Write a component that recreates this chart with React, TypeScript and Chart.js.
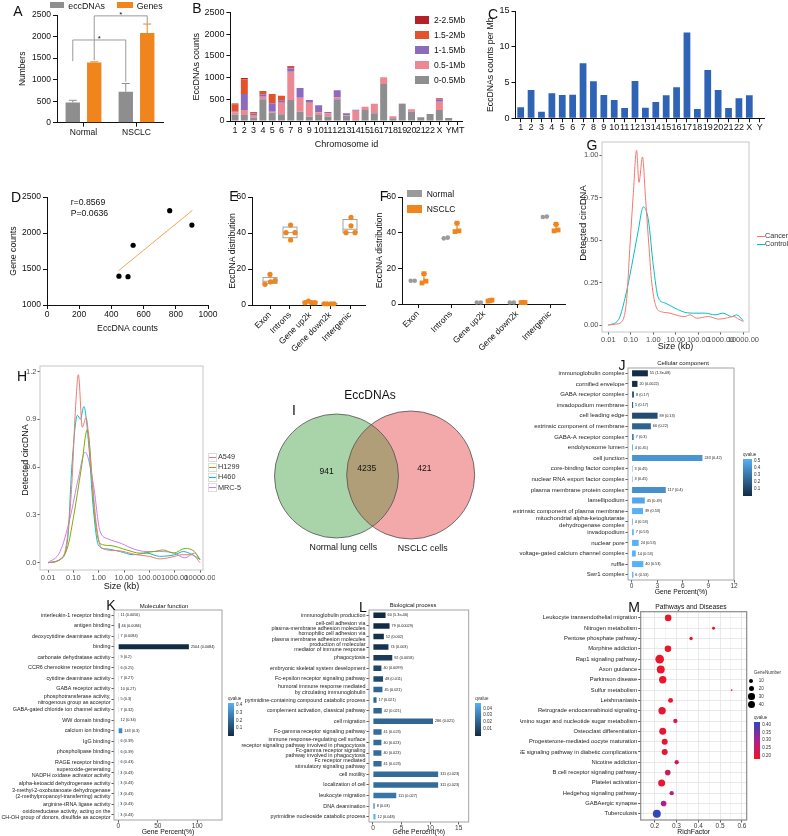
import React, { useEffect, useRef } from 'react';
import { Chart, registerables } from 'chart.js';

Chart.register(...registerables);

const FF = '"Liberation Sans", Arial, Helvetica, sans-serif';
const INK = '#111111';
const GG_INK = '#222222';
const GRAY = '#8e8e8e';
const ORANGE = '#f0841d';

/* ---------------- A ---------------- */
const aGroups = ['Normal', 'NSCLC'];
const aEccDNAs = [470, 720];
const aEccDNAsSD = [50, 190];
const aGenes = [1400, 2080];
const aGenesSD = [12, 210];
const aYTicks = [0, 500, 1000, 1500, 2000, 2500];
const aSigSeries = [0, 1];
const aSigTop = [1920, 2480];
const aSigLeftEnd = [1430, 1450];
const aSigRightEnd = [950, 2300];
const aSigMark = ['*', '*'];

/* ---------------- B ---------------- */
const bChromosomes = ['1', '2', '3', '4', '5', '6', '7', '8', '9', '10', '11', '12', '13', '14', '15', '16', '17', '18', '19', '20', '21', '22', 'X', 'Y', 'MT'];
const bSizeClasses = ['0-0.5Mb', '0.5-1Mb', '1-1.5Mb', '1.5-2Mb', '2-2.5Mb'];
const bColors = ['#8e8e90', '#eb8894', '#8c6bbf', '#e4522d', '#b5212a'];
const b0to05 = [150, 140, 80, 498, 192, 153, 483, 215, 100, 138, 100, 498, 115, 23, 253, 176, 851, 61, 390, 210, 85, 160, 253, 70, 0];
const b05to1 = [50, 115, 60, 61, 23, 268, 652, 322, 322, 61, 77, 46, 15, 215, 77, 222, 153, 50, 10, 60, 0, 0, 192, 0, 0];
const b1to15 = [20, 368, 35, 54, 192, 46, 77, 222, 61, 161, 31, 161, 46, 23, 0, 0, 0, 0, 0, 0, 0, 0, 55, 0, 0];
const b15to2 = [160, 337, 30, 77, 215, 115, 38, 0, 0, 0, 0, 0, 0, 0, 0, 0, 0, 0, 0, 0, 0, 0, 23, 0, 0];
const b2to25 = [25, 31, 0, 0, 0, 0, 15, 0, 0, 0, 0, 0, 0, 0, 0, 0, 0, 0, 0, 0, 0, 0, 7, 0, 0];
const bYTicks = [0, 500, 1000, 1500, 2000, 2500];

/* ---------------- C ---------------- */
const cChromosomes = ['1', '2', '3', '4', '5', '6', '7', '8', '9', '10', '11', '12', '13', '14', '15', '16', '17', '18', '19', '20', '21', '22', 'X', 'Y'];
const cPerMb = [1.55, 3.96, 0.93, 3.49, 3.26, 3.3, 7.69, 5.17, 3.26, 2.56, 1.44, 5.2, 1.49, 2.28, 3.21, 4.33, 12.0, 1.3, 6.75, 3.96, 1.44, 2.8, 3.21, 0];
const cYTicks = [0, 5, 10, 15];

/* ---------------- D ---------------- */
const dEccDNA = [447, 503, 535, 762, 900];
const dGenes = [1400, 1393, 1830, 2310, 2110];
const dFitX = [443, 903];
const dFitY = [1474, 2314];
const dXTicks = [0, 200, 400, 600, 800, 1000];
const dYTicks = [1000, 1500, 2000, 2500];

/* ---------------- E ---------------- */
const regionLabels = ['Exon', 'Introns', 'Gene up2k', 'Gene down2k', 'Intergenic'];
const eMin = [11.5, 36.1, 1.3, 0.6, 40.2];
const eQ1 = [12.0, 37.4, 1.3, 0.65, 40.2];
const eMed = [13.2, 40.2, 1.35, 0.7, 42.1];
const eQ3 = [15.3, 43.3, 2.0, 0.8, 47.5];
const eMax = [17.0, 44.4, 2.2, 0.85, 48.7];
const ePoints = [[11.5, 17, 12.9, 13.5], [44.4, 40.2, 40.2, 36.1], [2.2, 1.3, 1.3, 1.3], [0.7, 0.7, 0.7, 0.7], [48.7, 44, 40.2, 40.2]];
const eJitter = [[-0.25, 0, 0.03, 0.25], [0.03, -0.2, 0.25, 0.03], [-0.08, -0.25, 0.08, 0.25], [-0.3, -0.15, 0.05, 0.2], [0.05, 0.05, -0.2, 0.25]];
const pctTicks = [0, 20, 40, 60];

/* ---------------- F ---------------- */
const fNormal = [[13, 13], [36.8, 37.2], [0.8, 0.8], [0.8, 0.8], [48.8, 49]];
const fNormalJitter = [-0.22, -0.1];
const fNsclc = [[11.8, 12.8, 17], [40.6, 41, 45.3], [1.6, 2.2, 1.9], [0.8, 0.8, 0.9], [41, 41.5, 44.7]];
const fNsclcJitter = [0.12, 0.24, 0.18];

/* ---------------- G ---------------- */
const sizeTicks = [0.01, 0.1, 1, 10, 100, 1000, 10000];
const gCancerKb = [0.01, 0.02, 0.04, 0.066, 0.09, 0.13, 0.18, 0.23, 0.33, 0.45, 0.65, 0.85, 1.4, 2.3, 5.5, 13, 25, 43, 85, 280, 800, 1600, 3700, 6200, 10000];
const gCancerY = [0, 0.005, 0.02, 0.157, 0.45, 0.78, 1.03, 0.84, 0.99, 0.75, 0.45, 0.25, 0.1, 0.078, 0.07, 0.055, 0.05, 0.06, 0.04, 0.05, 0.035, 0.04, 0.05, 0.035, 0.02];
const gControlKb = [0.01, 0.028, 0.055, 0.11, 0.21, 0.36, 0.6, 1.0, 1.67, 3.3, 9, 25, 70, 200, 550, 1250, 3000, 5000, 10000];
const gControlY = [0, 0.03, 0.157, 0.35, 0.55, 0.696, 0.62, 0.35, 0.16, 0.13, 0.1, 0.075, 0.07, 0.07, 0.06, 0.07, 0.05, 0.06, 0.025];
const gYTicks = [0, 0.25, 0.5, 0.75, 1.0];

/* ---------------- H ---------------- */
const hA549Kb = [0.01, 0.03, 0.055, 0.087, 0.117, 0.158, 0.226, 0.316, 0.5, 0.84, 1.32, 5.1, 31.6, 100, 263, 1000, 1900, 5000, 10000];
const hA549Y = [0, 0.02, 0.13, 0.49, 0.92, 1.18, 0.85, 0.91, 0.6, 0.218, 0.09, 0.076, 0.05, 0.04, 0.024, 0.04, 0.05, 0.05, 0.0];
const hH1299Kb = [0.01, 0.03, 0.06, 0.1, 0.21, 0.355, 0.72, 1.12, 2.8, 12.6, 43, 150, 355, 900, 2600, 6000, 10000];
const hH1299Y = [0, 0.02, 0.1, 0.28, 0.6, 0.835, 0.28, 0.12, 0.108, 0.08, 0.06, 0.07, 0.08, 0.06, 0.09, 0.07, 0.02];
const hH460Kb = [0.01, 0.03, 0.06, 0.087, 0.145, 0.19, 0.26, 0.4, 0.61, 0.98, 2.1, 7, 23, 80, 250, 1000, 2200, 5000, 10000];
const hH460Y = [0, 0.02, 0.15, 0.6, 0.925, 0.9, 0.98, 0.75, 0.345, 0.11, 0.087, 0.07, 0.05, 0.06, 0.04, 0.05, 0.07, 0.05, 0.02];
const hMRC5Kb = [0.01, 0.03, 0.074, 0.16, 0.29, 0.62, 1.12, 2.3, 8, 25, 80, 250, 1000, 2500, 6000, 10000];
const hMRC5Y = [0, 0.07, 0.28, 0.535, 0.695, 0.49, 0.2, 0.15, 0.12, 0.085, 0.07, 0.07, 0.06, 0.03, 0.06, 0.02];
const hYTicks = [0, 0.3, 0.6, 0.9, 1.2];

/* ---------------- I ---------------- */
const vennTitle = 'EccDNAs';
const vennSets = ['Normal lung cells', 'NSCLC cells'];
const vennOnlyNormal = 941;
const vennShared = 4235;
const vennOnlyNsclc = 421;

/* ---------------- J ---------------- */
const ccTerms: any[] = ['immunoglobulin complex', 'cornified envelope', 'GABA receptor complex', 'invadopodium membrane', 'cell leading edge', 'extrinsic component of membrane', 'GABA-A receptor complex', 'endolysosome lumen', 'cell junction', 'core-binding factor complex', 'nuclear RNA export factor complex', 'plasma membrane protein complex', 'lamellipodium', 'extrinsic component of plasma membrane', ['mitochondrial alpha-ketoglutarate', 'dehydrogenase complex'], 'invadopodium', 'nuclear pore', 'voltage-gated calcium channel complex', 'ruffle', 'Swr1 complex'];
const ccPercent = [1.9, 0.68, 0.27, 0.17, 3.04, 2.25, 0.24, 0.14, 8.3, 0.1, 0.1, 4.0, 1.54, 1.33, 0.14, 0.24, 0.82, 0.48, 1.37, 0.2];
const ccCount = [55, 20, 8, 5, 89, 66, 7, 4, 243, 3, 3, 117, 45, 39, 4, 7, 24, 14, 40, 6];
const ccQ = [1.3e-8, 0.0022, 0.17, 0.17, 0.13, 0.22, 0.3, 0.45, 0.42, 0.45, 0.45, 0.4, 0.49, 0.53, 0.53, 0.53, 0.53, 0.53, 0.53, 0.53];
const ccXTicks = [0, 3, 6, 9, 12];
const ccQRange = [0, 0.53];
const ccQTicks = [0.1, 0.2, 0.3, 0.4, 0.5];

/* ---------------- K ---------------- */
const mfTerms: any[] = ['interleukin-1 receptor binding', 'antigen binding', 'deoxycytidine deaminase activity', 'binding', 'carbonate dehydratase activity', 'CCR6 chemokine receptor binding', 'cytidine deaminase activity', 'GABA receptor activity', ['phosphotransferase activity,', 'nitrogenous group as acceptor'], 'GABA-gated chloride ion channel activity', 'WW domain binding', 'calcium ion binding', 'IgG binding', 'phospholipase binding', 'RAGE receptor binding', ['superoxide-generating', 'NADPH oxidase activator activity'], 'alpha-ketoacid dehydrogenase activity', ['3-methyl-2-oxobutanoate dehydrogenase', '(2-methylpropanoyl-transferring) activity'], 'arginine-tRNA ligase activity', ['oxidoreductase activity, acting on the', 'CH-OH group of donors, disulfide as acceptor']];
const mfPercent = [0.39, 1.64, 0.25, 89.4, 0.32, 0.21, 0.25, 0.36, 0.18, 0.25, 0.43, 5.1, 0.21, 0.21, 0.21, 0.11, 0.11, 0.11, 0.11, 0.11];
const mfCount = [11, 46, 7, 2504, 9, 6, 7, 10, 5, 7, 12, 143, 6, 6, 6, 3, 3, 3, 3, 3];
const mfQ = [0.0056, 0.0084, 0.0084, 0.0084, 0.2, 0.25, 0.27, 0.27, 0.3, 0.32, 0.34, 0.3, 0.39, 0.39, 0.43, 0.43, 0.43, 0.43, 0.43, 0.43];
const mfXTicks = [0, 50, 100];
const mfQRange = [0.0056, 0.43];
const mfQTicks = [0.1, 0.2, 0.3, 0.4];

/* ---------------- L ---------------- */
const bpTerms: any[] = ['immunoglobulin production', ['cell-cell adhesion via', 'plasma-membrane adhesion molecules'], ['homophilic cell adhesion via', 'plasma membrane adhesion molecules'], ['production of molecular', 'mediator of immune response'], 'phagocytosis', 'embryonic skeletal system development', 'Fc-epsilon receptor signaling pathway', ['humoral immune response mediated', 'by circulating immunoglobulin'], 'pyrimidine-containing compound catabolic process', 'complement activation, classical pathway', 'cell migration', 'Fc-gamma receptor signaling pathway', ['immune response-regulating cell surface', 'receptor signaling pathway involved in phagocytosis'], ['Fc-gamma receptor signaling', 'pathway involved in phagocytosis'], ['Fc receptor mediated', 'stimulatory signaling pathway'], 'cell motility', 'localization of cell', 'leukocyte migration', 'DNA deamination', 'pyrimidine nucleoside catabolic process'];
const bpPercent = [2.2, 2.9, 1.9, 2.7, 3.37, 1.47, 1.76, 1.65, 0.62, 1.54, 10.5, 1.5, 1.47, 1.47, 1.5, 11.4, 11.4, 4.07, 0.29, 0.44];
const bpCount = [60, 79, 52, 74, 92, 40, 48, 45, 17, 42, 286, 41, 40, 40, 41, 311, 311, 111, 8, 12];
const bpQ = [5.3e-6, 0.00029, 0.002, 0.003, 0.0058, 0.0099, 0.011, 0.021, 0.021, 0.021, 0.021, 0.023, 0.023, 0.023, 0.023, 0.023, 0.023, 0.027, 0.03, 0.048];
const bpXTicks = [0, 5, 10, 15];
const bpQRange = [5.3e-6, 0.048];
const bpQTicks = [0.01, 0.02, 0.03, 0.04];

/* ---------------- M ---------------- */
const pathTerms = ['Leukocyte transendothelial migration', 'Nitrogen metabolism', 'Pentose phosphate pathway', 'Morphine addiction', 'Rap1 signaling pathway', 'Axon guidance', 'Parkinson disease', 'Sulfur metabolism', 'Leishmaniasis', 'Retrograde endocannabinoid signaling', 'Amino sugar and nucleotide sugar metabolism', 'Osteoclast differentiation', 'Progesterone-mediated oocyte maturation', 'AGE-RAGE signaling pathway in diabetic complications', 'Nicotine addiction', 'B cell receptor signaling pathway', 'Platelet activation', 'Hedgehog signaling pathway', 'GABAergic synapse', 'Tuberculosis'];
const pathRich = [0.262, 0.47, 0.367, 0.261, 0.223, 0.228, 0.237, 0.553, 0.273, 0.234, 0.295, 0.237, 0.246, 0.246, 0.301, 0.26, 0.232, 0.278, 0.241, 0.21];
const pathGenes = [30, 6, 8, 30, 52, 44, 38, 2, 17, 38, 13, 34, 25, 25, 13, 22, 34, 13, 22, 44];
const pathQ = [0.19, 0.19, 0.19, 0.19, 0.19, 0.19, 0.19, 0.19, 0.19, 0.2, 0.23, 0.2, 0.2, 0.2, 0.24, 0.25, 0.2, 0.28, 0.3, 0.41];
const pathXTicks = [0.15, 0.2, 0.25, 0.3, 0.35, 0.4, 0.45, 0.5, 0.55, 0.6];
const pathQRange = [0.179, 0.417];
const pathQTicks = [0.2, 0.25, 0.3, 0.35, 0.4];
const pathSizeLegend = [10, 20, 30, 40];

/* ---------------- helpers ---------------- */
type Box = { l: number; t: number; r: number; b: number };

function merge(a: any, b: any): any {
  const out: any = { ...(a || {}) };
  for (const k of Object.keys(b || {})) {
    const v = b[k];
    const av = out[k];
    if (v && typeof v === 'object' && !Array.isArray(v) && av && typeof av === 'object' && !Array.isArray(av)) out[k] = merge(av, v);
    else out[k] = v;
  }
  return out;
}

function base(c: Box, p: Box): any {
  return {
    responsive: false,
    animation: false,
    devicePixelRatio: 1,
    events: [],
    layout: { autoPadding: false, padding: { left: 0, top: p.t - c.t, right: c.r - p.r, bottom: 0 } },
    plugins: { legend: { display: false }, tooltip: { enabled: false }, title: { display: false } },
  };
}
const zeroPad = (s: any) => { s.paddingTop = 0; s.paddingBottom = 0; s.paddingLeft = 0; s.paddingRight = 0; };
const fitW = (w: number) => (s: any) => { s.width = w; zeroPad(s); };
const fitH = (h: number) => (s: any) => { s.height = h; zeroPad(s); };
const fixTicks = (vals: number[]) => (s: any) => { s.ticks = vals.map((v) => ({ value: v })); };
const ttl = (text: string, size: number, color = INK) => ({ display: true, text, color, font: { family: FF, size }, padding: 0 });
const numLabel = (v: any) => String(v);

const gpBase = {
  grid: { display: true, drawOnChartArea: false, drawTicks: true, tickLength: 4, color: INK, lineWidth: 1, offset: false },
  border: { display: true, color: INK, width: 1 },
  ticks: { color: INK, font: { family: FF, size: 8.5 }, padding: 1, autoSkip: false, maxRotation: 0, minRotation: 0 },
};
const gp = (extra: any) => merge(gpBase, extra);

const ggBase = {
  grid: { display: true, drawOnChartArea: false, drawTicks: true, tickLength: 2.5, color: '#333333', lineWidth: 0.8, offset: false },
  border: { display: false },
  ticks: { color: '#3a3a3a', font: { family: FF, size: 6.5 }, padding: 1, autoSkip: false, maxRotation: 0, minRotation: 0 },
};
const gg = (extra: any) => merge(ggBase, extra);

function lerp(c1: number[], c2: number[], t: number) {
  const u = Math.max(0, Math.min(1, t));
  return c1.map((v, i) => Math.round(v + (c2[i] - v) * u));
}
const rgb = (c: number[]) => `rgb(${c[0]},${c[1]},${c[2]})`;
const GO_LO = [19, 43, 67];
const GO_HI = [86, 177, 247];
const goColor = (q: number, range: number[]) => rgb(lerp(GO_LO, GO_HI, (q - range[0]) / (range[1] - range[0])));
const M_RED = [240, 22, 32];
const M_MID = [176, 30, 140];
const M_BLUE = [40, 72, 192];
function pathColor(q: number) {
  const t = (q - pathQRange[0]) / (pathQRange[1] - pathQRange[0]);
  return t < 0.5 ? rgb(lerp(M_RED, M_MID, t * 2)) : rgb(lerp(M_MID, M_BLUE, (t - 0.5) * 2));
}
function fmtQ(q: number) {
  if (q < 1e-4) {
    const [m, e] = q.toExponential(1).split('e');
    const ei = parseInt(e, 10);
    return `${m}e${ei < 0 ? '-' : '+'}${String(Math.abs(ei)).padStart(2, '0')}`;
  }
  return String(Number(q.toPrecision(2)));
}

function framePlugin(color: string, width: number) {
  return {
    id: 'frame',
    afterDatasetsDraw(chart: any) {
      const { ctx, chartArea: a } = chart;
      ctx.save();
      ctx.strokeStyle = color;
      ctx.lineWidth = width;
      ctx.strokeRect(a.left, a.top, a.right - a.left, a.bottom - a.top);
      ctx.restore();
    },
  };
}

function barLabelPlugin(texts: string[], size: number) {
  return {
    id: 'barLabels',
    afterDatasetsDraw(chart: any) {
      const { ctx } = chart;
      const meta = chart.getDatasetMeta(0);
      ctx.save();
      ctx.font = `${size}px ${FF}`;
      ctx.fillStyle = '#222';
      ctx.textAlign = 'left';
      ctx.textBaseline = 'middle';
      meta.data.forEach((bar: any, i: number) => ctx.fillText(texts[i], bar.x + 2, bar.y));
      ctx.restore();
    },
  };
}

/* ---------------- layout boxes ---------------- */
const boxA: Box = { l: 18, t: 0, r: 172, b: 150 };
const plotA: Box = { l: 57, t: 15, r: 163, b: 122.7 };
const boxB: Box = { l: 191, t: 0, r: 470, b: 150 };
const plotB: Box = { l: 230.4, t: 12.3, r: 462.6, b: 121 };
const boxC: Box = { l: 485, t: 0, r: 788, b: 140 };
const plotC: Box = { l: 515.5, t: 11, r: 764.9, b: 118.3 };
const boxD: Box = { l: 8, t: 185, r: 225, b: 334 };
const plotD: Box = { l: 47, t: 197, r: 208, b: 305 };
const boxE: Box = { l: 228, t: 185, r: 380, b: 372 };
const plotE: Box = { l: 252, t: 197, r: 365, b: 305 };
const boxF: Box = { l: 375, t: 185, r: 575, b: 372 };
const plotF: Box = { l: 402, t: 197, r: 565, b: 304 };
const boxG: Box = { l: 578, t: 130, r: 760, b: 352 };
const plotG: Box = { l: 602, t: 142, r: 749, b: 332 };
const boxH: Box = { l: 10, t: 355, r: 215, b: 592 };
const plotH: Box = { l: 40, t: 366, r: 203, b: 570 };
const boxI: Box = { l: 250, t: 380, r: 510, b: 560 };
const boxJ: Box = { l: 500, t: 360, r: 740, b: 596 };
const plotJ: Box = { l: 628, t: 368, r: 734, b: 580 };
const boxK: Box = { l: 0, t: 600, r: 250, b: 836 };
const plotK: Box = { l: 114, t: 610, r: 222, b: 820 };
const boxL: Box = { l: 200, t: 600, r: 475, b: 836 };
const plotL: Box = { l: 369, t: 610, r: 468.7, b: 822 };
const boxM: Box = { l: 520, t: 600, r: 750, b: 836 };
const plotM: Box = { l: 640.7, t: 611.7, r: 746.7, b: 820 };

/* ---------------- configs ---------------- */
function cfgA(): any {
  const c = boxA, p = plotA;
  const annot = {
    id: 'aAnnot',
    afterDatasetsDraw(chart: any) {
      const { ctx } = chart;
      const y = chart.scales.y;
      const sds = [aEccDNAsSD, aGenesSD];
      const errColors = [GRAY, ORANGE];
      ctx.save();
      ctx.lineWidth = 1;
      chart.data.datasets.forEach((ds: any, di: number) => {
        chart.getDatasetMeta(di).data.forEach((bar: any, i: number) => {
          const top = y.getPixelForValue(ds.data[i]);
          const end = y.getPixelForValue(ds.data[i] + sds[di][i]);
          ctx.strokeStyle = errColors[di];
          ctx.beginPath();
          ctx.moveTo(bar.x, top);
          ctx.lineTo(bar.x, end);
          ctx.moveTo(bar.x - 4, end);
          ctx.lineTo(bar.x + 4, end);
          ctx.stroke();
        });
      });
      ctx.strokeStyle = '#9a9a9a';
      ctx.fillStyle = INK;
      ctx.font = `8px ${FF}`;
      ctx.textAlign = 'center';
      ctx.textBaseline = 'middle';
      aSigSeries.forEach((s, k) => {
        const meta = chart.getDatasetMeta(s);
        const x1 = meta.data[0].x;
        const x2 = meta.data[1].x;
        const yt = y.getPixelForValue(aSigTop[k]);
        ctx.beginPath();
        ctx.moveTo(x1, y.getPixelForValue(aSigLeftEnd[k]));
        ctx.lineTo(x1, yt);
        ctx.lineTo(x2, yt);
        ctx.lineTo(x2, y.getPixelForValue(aSigRightEnd[k]));
        ctx.stroke();
        ctx.fillText(aSigMark[k], (x1 + x2) / 2, yt - 1);
      });
      ctx.restore();
    },
  };
  return {
    type: 'bar',
    data: {
      labels: aGroups,
      datasets: [
        { label: 'eccDNAs', data: aEccDNAs, backgroundColor: GRAY, categoryPercentage: 0.81, barPercentage: 0.67 },
        { label: 'Genes', data: aGenes, backgroundColor: ORANGE, categoryPercentage: 0.81, barPercentage: 0.67 },
      ],
    },
    options: merge(base(c, p), {
      scales: {
        x: gp({ afterFit: fitH(c.b - p.b), ticks: { padding: 0.5 } }),
        y: gp({ min: 0, max: 2500, afterBuildTicks: fixTicks(aYTicks), afterFit: fitW(p.l - c.l), ticks: { padding: 2, callback: numLabel }, title: ttl('Numbers', 8.5) }),
      },
    }),
    plugins: [annot],
  };
}

function cfgB(): any {
  const c = boxB, p = plotB;
  const series = [b0to05, b05to1, b1to15, b15to2, b2to25];
  return {
    type: 'bar',
    data: {
      labels: bChromosomes,
      datasets: series.map((d, i) => ({ label: bSizeClasses[i], data: d, backgroundColor: bColors[i], barPercentage: 0.75, categoryPercentage: 1 })),
    },
    options: merge(base(c, p), {
      scales: {
        x: gp({ stacked: true, afterFit: fitH(c.b - p.b), ticks: { padding: 0, font: { size: 9 } }, title: ttl('Chromosome id', 9) }),
        y: gp({ stacked: true, min: 0, max: 2500, afterBuildTicks: fixTicks(bYTicks), afterFit: fitW(p.l - c.l), ticks: { padding: 2, font: { size: 9 }, callback: numLabel }, title: ttl('EccDNAs counts', 9) }),
      },
    }),
  };
}

function cfgC(): any {
  const c = boxC, p = plotC;
  return {
    type: 'bar',
    data: { labels: cChromosomes, datasets: [{ data: cPerMb, backgroundColor: '#2f63b6', barPercentage: 0.65, categoryPercentage: 1 }] },
    options: merge(base(c, p), {
      scales: {
        x: gp({ afterFit: fitH(c.b - p.b), ticks: { padding: 0, font: { size: 9 } } }),
        y: gp({ min: 0, max: 15, afterBuildTicks: fixTicks(cYTicks), afterFit: fitW(p.l - c.l), ticks: { padding: 2, font: { size: 9 }, callback: numLabel }, title: ttl('EccDNAs counts per Mb', 8.7) }),
      },
    }),
  };
}

function cfgD(): any {
  const c = boxD, p = plotD;
  return {
    type: 'scatter',
    data: {
      datasets: [
        { data: dEccDNA.map((x, i) => ({ x, y: dGenes[i] })), pointRadius: 2.6, pointBackgroundColor: '#000', pointBorderWidth: 0, clip: false },
        { data: dFitX.map((x, i) => ({ x, y: dFitY[i] })), showLine: true, borderColor: '#f6a458', borderWidth: 1, pointRadius: 0 },
      ],
    },
    options: merge(base(c, p), {
      scales: {
        x: gp({ type: 'linear', min: 0, max: 1000, afterBuildTicks: fixTicks(dXTicks), afterFit: fitH(c.b - p.b), ticks: { padding: 1, callback: numLabel }, title: ttl('EccDNA counts', 8.7) }),
        y: gp({ type: 'linear', min: 1000, max: 2500, afterBuildTicks: fixTicks(dYTicks), afterFit: fitW(p.l - c.l), ticks: { padding: 2, callback: numLabel }, title: ttl('Gene counts', 8.7) }),
      },
    }),
  };
}

function cfgE(): any {
  const c = boxE, p = plotE;
  const pts: any[] = [];
  ePoints.forEach((arr, i) => arr.forEach((v, k) => pts.push({ x: i + eJitter[i][k], y: v })));
  const boxes = {
    id: 'boxes',
    beforeDatasetsDraw(chart: any) {
      const { ctx } = chart;
      const { x, y } = chart.scales;
      const py = (v: number) => y.getPixelForValue(v);
      ctx.save();
      ctx.strokeStyle = '#a3a3a3';
      ctx.lineWidth = 1;
      ctx.fillStyle = '#ffffff';
      regionLabels.forEach((_, i) => {
        const xl = x.getPixelForValue(i - 0.35);
        const xr = x.getPixelForValue(i + 0.35);
        const xc = x.getPixelForValue(i);
        ctx.beginPath();
        ctx.moveTo(xc, py(eMax[i]));
        ctx.lineTo(xc, py(eQ3[i]));
        ctx.moveTo(xc, py(eQ1[i]));
        ctx.lineTo(xc, py(eMin[i]));
        ctx.stroke();
        ctx.fillRect(xl, py(eQ3[i]), xr - xl, py(eQ1[i]) - py(eQ3[i]));
        ctx.strokeRect(xl, py(eQ3[i]), xr - xl, py(eQ1[i]) - py(eQ3[i]));
        ctx.beginPath();
        ctx.moveTo(xl, py(eMed[i]));
        ctx.lineTo(xr, py(eMed[i]));
        ctx.stroke();
      });
      ctx.restore();
    },
  };
  return {
    type: 'scatter',
    data: { datasets: [{ data: pts, pointRadius: 2.6, pointBackgroundColor: ORANGE, pointBorderWidth: 0, clip: false }] },
    options: merge(base(c, p), {
      scales: {
        x: gp({ type: 'linear', min: -0.9, max: 4.75, afterBuildTicks: fixTicks([0, 1, 2, 3, 4]), afterFit: fitH(c.b - p.b), ticks: { padding: 1, maxRotation: 45, minRotation: 45, callback: (v: any) => regionLabels[v] } }),
        y: gp({ type: 'linear', min: 0, max: 60, afterBuildTicks: fixTicks(pctTicks), afterFit: fitW(p.l - c.l), ticks: { padding: 2, callback: numLabel }, title: ttl('EccDNA distribution', 8.5) }),
      },
    }),
    plugins: [boxes],
  };
}

function cfgF(): any {
  const c = boxF, p = plotF;
  const nPts: any[] = [];
  fNormal.forEach((arr, i) => arr.forEach((v, k) => nPts.push({ x: i + fNormalJitter[k], y: v })));
  const sPts: any[] = [];
  fNsclc.forEach((arr, i) => arr.forEach((v, k) => sPts.push({ x: i + fNsclcJitter[k], y: v })));
  const err = {
    id: 'fErr',
    beforeDatasetsDraw(chart: any) {
      const { ctx } = chart;
      const { x, y } = chart.scales;
      ctx.save();
      ctx.strokeStyle = ORANGE;
      ctx.lineWidth = 1.2;
      fNsclc.forEach((arr, i) => {
        const xc = x.getPixelForValue(i + 0.18);
        const lo = y.getPixelForValue(Math.min(...arr));
        const hi = y.getPixelForValue(Math.max(...arr));
        ctx.beginPath();
        ctx.moveTo(xc, lo);
        ctx.lineTo(xc, hi);
        ctx.moveTo(xc - 3, hi);
        ctx.lineTo(xc + 3, hi);
        ctx.stroke();
      });
      ctx.restore();
    },
  };
  return {
    type: 'scatter',
    data: {
      datasets: [
        { label: 'Normal', data: nPts, pointRadius: 2.3, pointBackgroundColor: '#9b9b9b', pointBorderWidth: 0, clip: false },
        { label: 'NSCLC', data: sPts, pointStyle: 'rect', pointRadius: 3.4, pointBackgroundColor: ORANGE, pointBorderWidth: 0, clip: false },
      ],
    },
    options: merge(base(c, p), {
      scales: {
        x: gp({ type: 'linear', min: -0.485, max: 4.45, afterBuildTicks: fixTicks([0, 1, 2, 3, 4]), afterFit: fitH(c.b - p.b), ticks: { padding: 1, maxRotation: 45, minRotation: 45, callback: (v: any) => regionLabels[v] } }),
        y: gp({ type: 'linear', min: 0, max: 60, afterBuildTicks: fixTicks(pctTicks), afterFit: fitW(p.l - c.l), ticks: { padding: 2, callback: numLabel }, title: ttl('EccDNA distribution', 8.5) }),
      },
    }),
    plugins: [err],
  };
}

function densityCfg(c: Box, p: Box, series: { kb: number[]; y: number[]; color: string }[], xr: number[], yr: number[], yTicks: number[], digits: number): any {
  return {
    type: 'scatter',
    data: {
      datasets: series.map((s) => ({
        data: s.kb.map((k, i) => ({ x: k, y: s.y[i] })),
        showLine: true,
        borderColor: s.color,
        borderWidth: 1,
        pointRadius: 0,
        cubicInterpolationMode: 'monotone',
        fill: false,
      })),
    },
    options: merge(base(c, p), {
      scales: {
        x: gg({ type: 'logarithmic', min: xr[0], max: xr[1], afterBuildTicks: fixTicks(sizeTicks), afterFit: fitH(c.b - p.b), ticks: { font: { size: 7.5 }, color: '#4d4d4d', callback: (v: any) => Number(v).toFixed(2) }, title: ttl('Size (kb)', 9) }),
        y: gg({ type: 'linear', min: yr[0], max: yr[1], afterBuildTicks: fixTicks(yTicks), afterFit: fitW(p.l - c.l), ticks: { font: { size: 7.5 }, color: '#4d4d4d', callback: (v: any) => Number(v).toFixed(digits) } }),
      },
    }),
    plugins: [framePlugin('#c6c6c6', 1)],
  };
}

function cfgG(): any {
  return densityCfg(boxG, plotG, [
    { kb: gCancerKb, y: gCancerY, color: '#f8766d' },
    { kb: gControlKb, y: gControlY, color: '#00bfc4' },
  ], [Math.pow(10, -2.28), Math.pow(10, 4.25)], [-0.041, 1.078], gYTicks, 2);
}

function cfgH(): any {
  return densityCfg(boxH, plotH, [
    { kb: hA549Kb, y: hA549Y, color: '#f8766d' },
    { kb: hH1299Kb, y: hH1299Y, color: '#7cae00' },
    { kb: hH460Kb, y: hH460Y, color: '#00bfc4' },
    { kb: hMRC5Kb, y: hMRC5Y, color: '#c77cff' },
  ], [Math.pow(10, -2.316), Math.pow(10, 4.118)], [-0.0458, 1.2345], hYTicks, 1);
}

const vennCx = [86.5, 160.7];
const vennCy = [96, 95];
const vennR = [62, 64];
function cfgI(): any {
  const c = boxI;
  const venn = {
    id: 'venn',
    afterDraw(chart: any) {
      const { ctx } = chart;
      const { x, y } = chart.scales;
      const circ = [0, 1].map((i) => ({ cx: x.getPixelForValue(vennCx[i]), cy: y.getPixelForValue(vennCy[i]), r: x.getPixelForValue(vennCx[i] + vennR[i]) - x.getPixelForValue(vennCx[i]) }));
      const path = (k: number) => { ctx.beginPath(); ctx.arc(circ[k].cx, circ[k].cy, circ[k].r, 0, Math.PI * 2); };
      ctx.save();
      path(0); ctx.fillStyle = '#a9d4a9'; ctx.fill();
      path(1); ctx.fillStyle = '#f3a9aa'; ctx.fill();
      ctx.save();
      path(0); ctx.clip();
      path(1); ctx.fillStyle = '#b09e78'; ctx.fill();
      ctx.restore();
      ctx.strokeStyle = '#505050';
      ctx.lineWidth = 0.8;
      path(0); ctx.stroke();
      path(1); ctx.stroke();
      ctx.restore();
    },
  };
  return {
    type: 'scatter',
    data: { datasets: [] },
    options: merge(base(c, c), {
      scales: {
        x: { type: 'linear', display: false, min: 0, max: c.r - c.l },
        y: { type: 'linear', display: false, min: 0, max: c.b - c.t, reverse: true },
      },
    }),
    plugins: [venn],
  };
}

function goCfg(c: Box, p: Box, terms: any[], pct: number[], counts: number[], qs: number[], qRange: number[], xTicks: number[], yFont: number, barPct: number): any {
  const span = xTicks[xTicks.length - 1] - xTicks[0];
  const pxPerUnit = (p.r - p.l) / 1;
  void pxPerUnit;
  const texts = counts.map((n, i) => `${n} (${fmtQ(qs[i])})`);
  return {
    type: 'bar',
    data: { labels: terms, datasets: [{ data: pct, backgroundColor: qs.map((q) => goColor(q, qRange)), barPercentage: barPct, categoryPercentage: 1 }] },
    options: merge(base(c, p), {
      indexAxis: 'y',
      scales: {
        x: gg({ type: 'linear', min: xRange(c, p, xTicks)[0], max: xRange(c, p, xTicks)[1], afterBuildTicks: fixTicks(xTicks), afterFit: fitH(c.b - p.b), ticks: { padding: 0, callback: numLabel }, title: ttl('Gene Percent(%)', 6.8) }),
        y: gg({ afterFit: fitW(p.l - c.l), ticks: { padding: 1, color: GG_INK, font: { size: yFont, lineHeight: 1.05 } } }),
      },
    }),
    plugins: [framePlugin('#9a9a9a', 0.9), barLabelPlugin(texts, 3.8)],
    _span: span,
  };
}
// x ranges read from the frames: value at left and right edge of each panel
const ccXRange = [-0.43, 12.0];
const mfXRange = [-5.4, 131.3];
const bpXRange = [-0.7, 16.75];
function xRange(c: Box, _p: Box, _t: number[]) {
  if (c === boxJ) return ccXRange;
  if (c === boxK) return mfXRange;
  return bpXRange;
}

function cfgJ(): any { return goCfg(boxJ, plotJ, ccTerms, ccPercent, ccCount, ccQ, ccQRange, ccXTicks, 6, 0.57); }
function cfgK(): any { return goCfg(boxK, plotK, mfTerms, mfPercent, mfCount, mfQ, mfQRange, mfXTicks, 5.4, 0.47); }
function cfgL(): any { return goCfg(boxL, plotL, bpTerms, bpPercent, bpCount, bpQ, bpQRange, bpXTicks, 5.4, 0.52); }

const isMajor = (v: number) => Math.abs(v * 10 - Math.round(v * 10)) < 1e-6;
function cfgM(): any {
  const c = boxM, p = plotM;
  return {
    type: 'scatter',
    data: {
      datasets: [{
        data: pathRich.map((r, i) => ({ x: r, y: i })),
        pointRadius: pathGenes.map((n) => 0.6 * Math.sqrt(n)),
        pointBackgroundColor: pathQ.map(pathColor),
        pointBorderWidth: 0,
      }],
    },
    options: merge(base(c, p), {
      scales: {
        x: gg({
          type: 'linear', min: 0.136, max: 0.622,
          afterBuildTicks: fixTicks(pathXTicks), afterFit: fitH(c.b - p.b),
          grid: { drawOnChartArea: true, color: (ctx: any) => (ctx.tick && isMajor(ctx.tick.value) ? '#e3e3e3' : '#f1f1f1'), tickColor: (ctx: any) => (ctx.tick && isMajor(ctx.tick.value) ? '#333' : 'rgba(0,0,0,0)'), lineWidth: 0.8 },
          ticks: { padding: 0, callback: (v: any) => (isMajor(v) ? Number(v).toFixed(1) : '') },
          title: ttl('RichFactor', 6.8),
        }),
        y: gg({
          type: 'linear', reverse: true, min: -0.6, max: 19.6,
          afterBuildTicks: fixTicks(pathTerms.map((_, i) => i)), afterFit: fitW(p.l - c.l),
          grid: { drawOnChartArea: true, color: '#e3e3e3', tickColor: '#333', lineWidth: 0.8 },
          ticks: { padding: 1, color: GG_INK, font: { size: 5.8 }, callback: (v: any) => pathTerms[v] },
        }),
      },
    }),
    plugins: [framePlugin('#8a8a8a', 1.2)],
  };
}

/* ---------------- components ---------------- */
function ChartCanvas({ c, make }: { c: Box; make: () => any }) {
  const ref = useRef<HTMLCanvasElement | null>(null);
  useEffect(() => {
    const chart = new Chart(ref.current as HTMLCanvasElement, make());
    return () => chart.destroy();
  }, []);
  const w = c.r - c.l;
  const h = c.b - c.t;
  return <canvas ref={ref} width={w} height={h} style={{ position: 'absolute', left: c.l, top: c.t, width: w, height: h }} />;
}

function T({ x, y, children, size = 9, align = 'center', color = INK, rotate = 0 }: any) {
  const tx = align === 'center' ? '-50%' : align === 'right' ? '-100%' : '0%';
  return (
    <div style={{ position: 'absolute', left: x, top: y, transform: `translate(${tx}, -50%)${rotate ? ` rotate(${rotate}deg)` : ''}`, fontFamily: FF, fontSize: size, color, whiteSpace: 'nowrap', lineHeight: 1 }}>
      {children}
    </div>
  );
}

function Sq({ l, t, w, h, bg, border }: any) {
  return <div style={{ position: 'absolute', left: l, top: t, width: w, height: h, background: bg, border: border || 'none', boxSizing: 'border-box' }} />;
}

function ColorBar({ l, t, w, h, range, ticks, bottomColor, topColor, mid, fmt }: any) {
  const grad = mid ? `linear-gradient(to top, ${bottomColor}, ${mid}, ${topColor})` : `linear-gradient(to top, ${bottomColor}, ${topColor})`;
  return (
    <>
      <T x={l} y={t - 4} size={4.5} align="left" color="#333">qvalue</T>
      <div style={{ position: 'absolute', left: l, top: t, width: w, height: h, background: grad }} />
      {ticks.map((q: number) => (
        <T key={q} x={l + w + 2} y={t + h - ((q - range[0]) / (range[1] - range[0])) * h} size={4.5} align="left" color="#333">{fmt(q)}</T>
      ))}
    </>
  );
}

export default function App() {
  const letters: [string, number, number][] = [['A', 18, 11], ['B', 197, 8], ['C', 493, 13.5], ['D', 16, 197], ['E', 234, 196], ['F', 384, 196], ['G', 592, 145], ['H', 22, 376], ['I', 294, 410], ['J', 622, 365], ['K', 111, 605], ['L', 363, 607], ['M', 634, 607]];
  const legendB = bSizeClasses.map((n, i) => ({ n, col: bColors[i] })).reverse();
  const hLegend = [['A549', '#f8766d'], ['H1299', '#7cae00'], ['H460', '#00bfc4'], ['MRC-5', '#c77cff']];
  const gLegend = [['Cancer', '#f8766d'], ['Control', '#00bfc4']];
  return (
    <div style={{ position: 'absolute', left: 0, top: 0, width: 788, height: 836, background: '#fff', overflow: 'hidden', fontFamily: FF }}>
      <ChartCanvas c={boxA} make={cfgA} />
      <ChartCanvas c={boxB} make={cfgB} />
      <ChartCanvas c={boxC} make={cfgC} />
      <ChartCanvas c={boxD} make={cfgD} />
      <ChartCanvas c={boxE} make={cfgE} />
      <ChartCanvas c={boxF} make={cfgF} />
      <ChartCanvas c={boxG} make={cfgG} />
      <ChartCanvas c={boxH} make={cfgH} />
      <ChartCanvas c={boxI} make={cfgI} />
      <ChartCanvas c={boxL} make={cfgL} />
      <ChartCanvas c={boxK} make={cfgK} />
      <ChartCanvas c={boxJ} make={cfgJ} />
      <ChartCanvas c={boxM} make={cfgM} />

      {letters.map(([s, x, y]) => (
        <T key={s} x={x} y={y} size={14}>{s}</T>
      ))}

      {/* A legend */}
      <Sq l={50} t={1.7} w={14} h={6.8} bg={GRAY} />
      <T x={68.3} y={5.5} size={8.8} align="left">eccDNAs</T>
      <Sq l={117} t={1.7} w={16} h={6.8} bg={ORANGE} />
      <T x={136.7} y={5.5} size={8.8} align="left">Genes</T>

      {/* B legend */}
      {legendB.map((e, i) => (
        <React.Fragment key={e.n}>
          <Sq l={415} t={16.2 + i * 15} w={13.5} h={7.6} bg={e.col} />
          <T x={434} y={20 + i * 15} size={8.5} align="left">{e.n}</T>
        </React.Fragment>
      ))}

      {/* D stats */}
      <T x={70.7} y={201.7} size={8.7} align="left">r=0.8569</T>
      <T x={70.7} y={212.7} size={8.7} align="left">P=0.0636</T>

      {/* F legend */}
      <Sq l={407} t={190} w={15} h={7.3} bg="#9b9b9b" />
      <T x={426.7} y={194} size={8.5} align="left">Normal</T>
      <Sq l={407} t={205} w={15} h={8.3} bg={ORANGE} />
      <T x={426.7} y={209} size={8.5} align="left">NSCLC</T>

      {/* G axis title + legend */}
      <T x={583} y={223} size={9.5} rotate={-90}>Detected circDNA</T>
      {gLegend.map(([n, col], i) => (
        <React.Fragment key={n}>
          <div style={{ position: 'absolute', left: 757, top: 235.7 + i * 8.3, width: 7.5, height: 1.2, background: col }} />
          <T x={765} y={236 + i * 8.3} size={7.2} align="left" color="#333">{n}</T>
        </React.Fragment>
      ))}

      {/* H axis title + legend */}
      <T x={25} y={460} size={9} rotate={-90}>Detected circDNA</T>
      {hLegend.map(([n, col], i) => (
        <React.Fragment key={n}>
          <Sq l={207.5} t={452.5 + i * 10.2} w={9} h={9} bg="#fff" border="0.6px solid #dddddd" />
          <div style={{ position: 'absolute', left: 208.5, top: 456.5 + i * 10.2, width: 7, height: 1.2, background: col }} />
          <T x={218} y={457 + i * 10.2} size={7.3} align="left" color="#333">{n}</T>
        </React.Fragment>
      ))}

      {/* I texts */}
      <T x={370} y={395} size={12}>{vennTitle}</T>
      <T x={326.7} y={470.7} size={8.5}>{vennOnlyNormal}</T>
      <T x={366.7} y={468.3} size={8.5}>{vennShared}</T>
      <T x={424.3} y={468.3} size={8.5}>{vennOnlyNsclc}</T>
      <T x={343.3} y={547.3} size={8.8}>{vennSets[0]}</T>
      <T x={422.7} y={547.7} size={8.8}>{vennSets[1]}</T>

      {/* GO titles */}
      <T x={683} y={363} size={6}>Cellular component</T>
      <T x={164} y={605.7} size={6}>Molecular function</T>
      <T x={413} y={606} size={5.8}>Biological process</T>
      <T x={691} y={607} size={6.7}>Pathways and Diseases</T>

      <ColorBar l={743} t={459} w={9} h={37} range={ccQRange} ticks={ccQTicks} bottomColor={rgb(GO_LO)} topColor={rgb(GO_HI)} fmt={(q: number) => q.toFixed(1)} />
      <ColorBar l={228} t={702.7} w={6} h={33} range={mfQRange} ticks={mfQTicks} bottomColor={rgb(GO_LO)} topColor={rgb(GO_HI)} fmt={(q: number) => q.toFixed(1)} />
      <ColorBar l={475.3} t={703.3} w={6} h={32.4} range={bpQRange} ticks={bpQTicks} bottomColor={rgb(GO_LO)} topColor={rgb(GO_HI)} fmt={(q: number) => q.toFixed(2)} />
      <ColorBar l={754} t={722.3} w={6.3} h={37} range={pathQRange} ticks={pathQTicks} bottomColor={rgb(M_RED)} mid={rgb(M_MID)} topColor={rgb(M_BLUE)} fmt={(q: number) => q.toFixed(2)} />

      {/* M size legend */}
      <T x={754} y={673.3} size={4.5} align="left" color="#333">GeneNumber</T>
      {pathSizeLegend.map((n, i) => {
        const r = 0.6 * Math.sqrt(n);
        return (
          <React.Fragment key={n}>
            <div style={{ position: 'absolute', left: 751.3 - r, top: 680.7 + i * 8 - r, width: 2 * r, height: 2 * r, borderRadius: '50%', background: '#000' }} />
            <T x={758.7} y={680.7 + i * 8} size={4.5} align="left" color="#333">{n}</T>
          </React.Fragment>
        );
      })}
    </div>
  );
}
